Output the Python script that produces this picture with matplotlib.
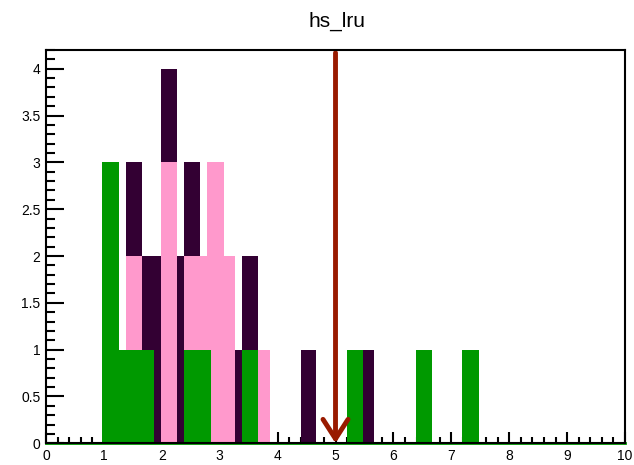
import numpy as np
import matplotlib
matplotlib.use('Agg')
import matplotlib.pyplot as plt
from matplotlib.ticker import MultipleLocator, FuncFormatter

plt.rcParams['font.family'] = ['Liberation Sans', 'DejaVu Sans']

# histogram contents (bin edges, bin heights)
dark_edges = [1.382, 1.658, 1.981, 2.263, 2.389, 2.660, 3.264, 3.390, 3.656, 4.399, 4.663, 5.470, 5.665]
dark_vals = [3, 2, 4, 2, 3, 2, 1, 2, 0, 1, 0, 1]

pink_edges = [1.382, 1.658, 1.981, 2.263, 2.389, 2.781, 3.069, 3.264, 3.656, 3.869]
pink_vals = [2, 0, 3, 0, 2, 3, 2, 0, 1]

green_edges = [0.972, 1.261, 1.860, 2.389, 2.850, 3.390, 3.656, 5.193, 5.470, 6.395, 6.661, 7.190, 7.473]
green_vals = [3, 1, 0, 1, 0, 1, 0, 1, 0, 1, 0, 1]

cut_x = 5.0
cut_top = 4.17

fig = plt.figure(figsize=(6.34, 4.65), dpi=100)
ax = fig.add_axes([0.0726, 0.0467, 0.9132, 0.8458])

# drawn in order: dark, pink, green on top
ax.stairs(dark_vals, dark_edges, fill=True, color='#330033', zorder=2)
ax.stairs(pink_vals, pink_edges, fill=True, color='#ff99cc', zorder=3)
ax.stairs(green_vals, green_edges, fill=True, color='#009900', zorder=4)
ax.axhline(0, color='#009900', lw=2, zorder=5, clip_on=False)

# cut arrow
ax.annotate('', xy=(cut_x, 0), xytext=(cut_x, cut_top),
            arrowprops=dict(arrowstyle='->,head_length=0.7,head_width=0.45',
                            color='#991a00', lw=3.5, mutation_scale=20,
                            shrinkA=0, shrinkB=0),
            zorder=6)

ax.set_xlim(0, 10)
ax.set_ylim(0, 4.2)

ax.xaxis.set_major_locator(MultipleLocator(1))
ax.xaxis.set_minor_locator(MultipleLocator(0.2))
ax.yaxis.set_major_locator(MultipleLocator(0.5))
ax.yaxis.set_minor_locator(MultipleLocator(0.1))
ax.yaxis.set_major_formatter(FuncFormatter(lambda v, p: '%g' % v))

ax.tick_params(axis='both', which='both', direction='in', width=1.5, labelsize=10, colors='black')
ax.tick_params(axis='x', which='major', length=8, pad=4)
ax.tick_params(axis='x', which='minor', length=4)
ax.tick_params(axis='y', which='major', length=13, pad=4)
ax.tick_params(axis='y', which='minor', length=6.5)

for s in ax.spines.values():
    s.set_linewidth(1.5)
    s.set_zorder(7)

fig.text(0.531, 0.955, 'hs_lru', ha='center', va='center', fontsize=15)

fig.savefig('out.png', dpi=100)
